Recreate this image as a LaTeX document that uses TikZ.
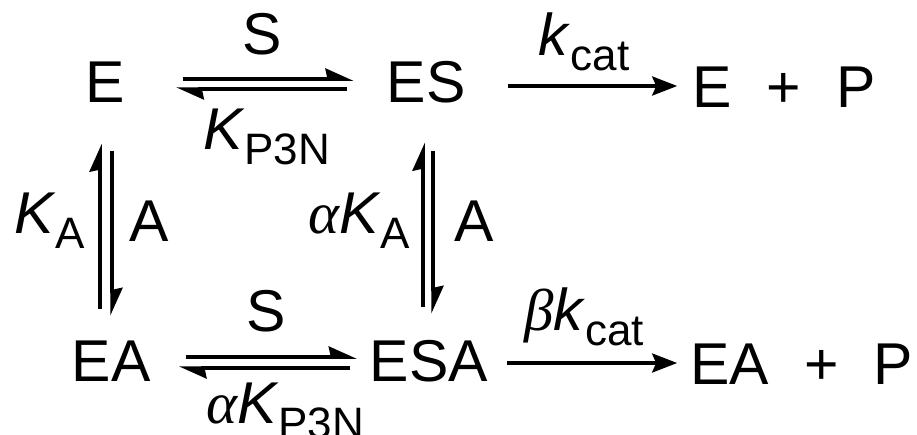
\documentclass[tikz,border=0pt]{standalone}
\usepackage{fontspec}
\setmainfont{Liberation Sans}
\newfontfamily\grk{Liberation Serif}
\usetikzlibrary{arrows.meta}
\usetikzlibrary{positioning}

% lowered, smaller text for rate constant indices
\newcommand{\sbs}[1]{\raisebox{-15pt}{\fontsize{44}{46}\selectfont #1}}
\newcommand{\gal}{{\grk\itshape α}}
\newcommand{\gbe}{{\grk\itshape β}}

\begin{document}
\begin{tikzpicture}[on grid,
    species/.style={inner sep=0pt, text height=42pt, text depth=0pt, font=\fontsize{59}{70}\selectfont},
    lbl/.style={inner sep=0pt, font=\fontsize{59}{70}\selectfont},
    harp/.style={line width=3.5pt, -{Stealth[harpoon,length=24pt,width=21pt,inset=2pt]}},
    rxn/.style={line width=3.5pt, -{Stealth[length=25pt,width=19pt,inset=4pt]}}]
    \useasboundingbox (0,0) rectangle (917pt,-434pt);

    % the four enzyme states
    \node[species] (E)   at (105pt,-81.5pt) {E};
    \node[species] (ES)  [right=321pt of E] {ES};
    \node[species] (EA)  [below=278.5pt of E, xshift=6pt] {EA};
    \node[species] (ESA) [right=318pt of EA] {ESA};
    % products
    \node[species] (EP)  [right=358pt of ES, yshift=-4.5pt] {E\hspace{35pt}+\hspace{35pt}P};
    \node[species] (EAP) [right=372.6pt of ESA, yshift=-3pt] {EA\hspace{35pt}+\hspace{35pt}P};

    % substrate binding
    \path[harp]
    ([yshift=2.5pt]E.east) edge[shorten <=58pt, shorten >=33pt] node[lbl, above=22pt, xshift=7pt] {S} ([yshift=2.5pt]ES.west)
    ([yshift=-7.5pt]ES.west) edge[shorten <=39pt, shorten >=51pt] node[lbl, below=18pt, xshift=11pt] {\textit{K}\sbs{P3N}} ([yshift=-7.5pt]E.east)
    ([yshift=3pt]EA.east) edge[shorten <=35pt, shorten >=13pt] node[lbl, above=23pt, xshift=6pt] {S} ([yshift=3pt]ESA.west)
    ([yshift=-8pt]ESA.west) edge[shorten <=20pt, shorten >=28pt] node[lbl, below=13pt, xshift=25pt] {\gal\textit{K}\sbs{P3N}} ([yshift=-8pt]EA.east);

    % activator binding
    \path[harp]
    ([xshift=-5pt]E.south |- EA.north) edge[shorten <=30pt, shorten >=41pt] node[lbl, left=13pt] {\textit{K}\sbs{A}} ([xshift=-5pt]E.south)
    ([xshift=7pt]E.south) edge[shorten <=48pt, shorten >=23pt] node[lbl, right=16pt] {A} ([xshift=7pt]E.south |- EA.north)
    ([xshift=-3pt]ES.south |- ESA.north) edge[shorten <=32pt, shorten >=40pt] node[lbl, left=11pt] {\gal\textit{K}\sbs{A}} ([xshift=-3pt]ES.south)
    ([xshift=7pt]ES.south) edge[shorten <=48pt, shorten >=25pt] node[lbl, right=20pt] {A} ([xshift=7pt]ES.south |- ESA.north);

    % catalysis
    \path[rxn]
    (ES.east |- EP.west) edge[shorten <=42pt, shorten >=15pt] node[lbl, above=13pt, xshift=5pt] {\textit{k}\sbs{cat}} (EP.west)
    (ESA.east |- EAP.west) edge[shorten <=19pt, shorten >=13pt] node[lbl, above=15pt, xshift=-5pt] {\gbe\textit{k}\sbs{cat}} (EAP.west);
\end{tikzpicture}
\end{document}
